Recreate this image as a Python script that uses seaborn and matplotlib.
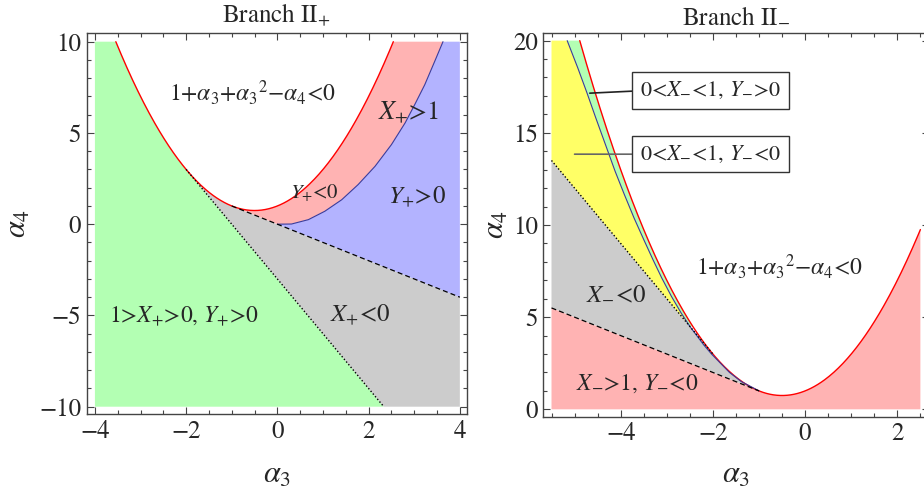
import numpy as np
import pandas as pd
import matplotlib
matplotlib.use("Agg")
import matplotlib.pyplot as plt
import seaborn as sns
from matplotlib.ticker import MultipleLocator

# ---------------- data ----------------
# boundary curve  1 + a3 + a3^2 - a4 = 0   ->  a4 = c0 + c1*a3 + c2*a3^2
boundary_coeffs = [1.0, 1.0, 1.0]

# Branch II+ panel
plus_a3_range = [-4.0, 4.0]
plus_a4_range = [-10.0, 10.0]
plus_dotted_a3 = [-2.0, 2.333]
plus_dotted_a4 = [3.0, -10.0]
plus_dashed_a3 = [-1.0, 4.0]
plus_dashed_a4 = [1.0, -4.0]
plus_blue_a3 = [0.0, 0.31, 0.68, 1.04, 1.41, 1.77, 2.14, 2.50, 2.80, 3.01, 3.23, 3.45, 3.63]
plus_blue_a4 = [0.0, 0.01, 0.25, 0.71, 1.34, 2.17, 3.17, 4.36, 5.55, 6.55, 7.64, 8.93, 10.0]

# Branch II- panel
minus_a3_range = [-5.5, 2.5]
minus_a4_range = [0.0, 20.0]
minus_dotted_a3 = [-5.5, -2.0]
minus_dotted_a4 = [13.5, 3.0]
minus_dashed_a3 = [-5.5, -1.0]
minus_dashed_a4 = [5.5, 1.0]
minus_blue_a3 = [-5.16, -4.93, -4.73, -4.54, -4.33, -4.12, -3.92, -3.71, -3.50, -3.30,
                 -3.11, -2.90, -2.69, -2.50, -2.20, -2.03, -1.64, -1.38, -1.0]
minus_blue_a4 = [20.0, 18.52, 17.16, 15.81, 14.36, 12.91, 11.65, 10.38, 9.21, 8.12,
                 7.13, 6.13, 5.23, 4.50, 3.50, 3.00, 2.00, 1.50, 1.0]
minus_yellow_end = 4.5   # blue curve meets the dotted line here (a4)

COND = r"1+$\alpha_3$+$\alpha_3{}^2$−$\alpha_4$<0"
# region labels: (text, a3, a4, fontsize)
plus_labels = [
    (COND, -0.54, 7.24, 17),
    (r"$X_{+}$>1", 2.88, 6.08, 19),
    (r"$Y_{+}$<0", 0.80, 1.69, 15),
    (r"$Y_{+}$>0", 3.05, 1.51, 18),
    (r"1>$X_{+}$>0, $Y_{+}$>0", -2.06, -5.03, 17),
    (r"$X_{+}$<0", 1.81, -4.97, 18),
]
minus_labels = [
    (COND, -0.56, 7.74, 17),
    (r"$X_{-}$<0", -4.09, 6.29, 18),
    (r"$X_{-}$>1, $Y_{-}$<0", -3.65, 1.41, 17),
]
# callouts: (text, box centre a3, a4, pointer a3, a4, line colour)
minus_callouts = [
    (r"0<$X_{-}$<1, $Y_{-}$>0", -2.05, 17.28, -4.67, 17.15, "#222222"),
    (r"0<$X_{-}$<1, $Y_{-}$<0", -2.05, 13.84, -5.00, 13.84, "#666666"),
]

C_GREEN = "#b3ffb3"
C_PINK = "#ffb3b3"
C_BLUE = "#b3b3ff"
C_GRAY = "#cccccc"
C_YELLOW = "#ffff66"
C_FRAME = "#444444"

# ---------------- style ----------------
sns.set_theme(style="ticks")
plt.rcParams["font.family"] = ["STIXGeneral", "DejaVu Serif"]
plt.rcParams["mathtext.fontset"] = "stix"
plt.rcParams["axes.edgecolor"] = C_FRAME


def parab(a):
    a = np.asarray(a, dtype=float)
    return boundary_coeffs[0] + boundary_coeffs[1] * a + boundary_coeffs[2] * a ** 2


def parab_inv(v, sign):
    c0, c1, c2 = boundary_coeffs
    return (-c1 + sign * np.sqrt(c1 ** 2 - 4 * c2 * (c0 - v))) / (2 * c2)


def pseg(a0, a1, n=150):
    a = np.linspace(a0, a1, n)
    return list(zip(a, parab(a)))


def style_axes(ax):
    ax.xaxis.set_major_locator(MultipleLocator(2))
    ax.xaxis.set_minor_locator(MultipleLocator(0.5))
    ax.yaxis.set_major_locator(MultipleLocator(5))
    ax.yaxis.set_minor_locator(MultipleLocator(1))
    ax.tick_params(which="both", direction="in", top=True, right=True,
                   color=C_FRAME, width=0.8)
    ax.tick_params(which="major", length=5, labelsize=18, pad=4)
    ax.tick_params(which="minor", length=2.8)
    for s in ax.spines.values():
        s.set_linewidth(1.0)
        s.set_color(C_FRAME)
    ax.set_xlabel(r"$\alpha_3$", fontsize=22)
    ax.set_ylabel(r"$\alpha_4$", fontsize=22)


def lines(ax, xs, ys, **kw):
    df = pd.DataFrame({"a3": xs, "a4": ys})
    sns.lineplot(data=df, x="a3", y="a4", ax=ax, sort=False, estimator=None, **kw)


def fill(ax, poly, color):
    p = np.array(poly)
    ax.fill(p[:, 0], p[:, 1], color=color, lw=0, zorder=1)


fig = plt.figure(figsize=(9.24, 4.91), dpi=100)
axL = fig.add_axes([86.7 / 924, (491 - 414) / 491, 380 / 924, 380.7 / 491])
axR = fig.add_axes([543.3 / 924, (491 - 416.7) / 491, 385.3 / 924, 384 / 491])

# ================= Branch II+ =================
ax = axL
x0, x1 = plus_a3_range
y0, y1 = plus_a4_range
aL10 = parab_inv(y1, -1)
aR10 = parab_inv(y1, +1)
bx, by = plus_blue_a3, plus_blue_a4
dot0 = (plus_dotted_a3[0], plus_dotted_a4[0])
dot1 = (plus_dotted_a3[1], plus_dotted_a4[1])
dsh0 = (plus_dashed_a3[0], plus_dashed_a4[0])
dsh1 = (plus_dashed_a3[1], plus_dashed_a4[1])

fill(ax, [(x0, y0), (x0, y1), (aL10, y1)] + pseg(aL10, dot0[0]) + [dot1], C_GREEN)
fill(ax, pseg(dot0[0], dsh0[0]) + [dsh1, (x1, y0), dot1], C_GRAY)
fill(ax, pseg(dsh0[0], aR10) + list(zip(bx[::-1], by[::-1])), C_PINK)
fill(ax, list(zip(bx, by)) + [(x1, y1), dsh1], C_BLUE)

aa = np.linspace(aL10, aR10, 300)
lines(ax, aa, parab(aa), color="#ff0000", lw=1.0, zorder=3)
lines(ax, bx, by, color="#3b3b9a", lw=0.8, zorder=3)
lines(ax, plus_dashed_a3, plus_dashed_a4, color="black", lw=0.9, dashes=(4, 2.5), zorder=3)
lines(ax, plus_dotted_a3, plus_dotted_a4, color="black", lw=1.0, dashes=(1, 1.5), zorder=3)

for t, xa, ya, fs in plus_labels:
    ax.text(xa, ya, t, fontsize=fs, ha="center", va="center", zorder=4)

ax.set_xlim(-4.18, 4.15)
ax.set_ylim(-10.4, 10.46)
style_axes(ax)
ax.set_title(r"Branch $\mathrm{II}_{+}$", fontsize=18, pad=8)
ax.xaxis.set_label_coords(0.5, -0.162)
ax.xaxis.label.set_va("center")
ax.yaxis.set_label_coords(-0.178, 0.5)
ax.yaxis.label.set_va("center")

# ================= Branch II- =================
ax = axR
x0, x1 = minus_a3_range
y0, y1 = minus_a4_range
aL20 = parab_inv(y1, -1)
bx, by = minus_blue_a3, minus_blue_a4
dot0 = (minus_dotted_a3[0], minus_dotted_a4[0])
dot1 = (minus_dotted_a3[1], minus_dotted_a4[1])
dsh0 = (minus_dashed_a3[0], minus_dashed_a4[0])
dsh1 = (minus_dashed_a3[1], minus_dashed_a4[1])
upper = [(u, v) for u, v in zip(bx, by) if v >= minus_yellow_end]
a_meet = parab_inv(minus_yellow_end, -1)

fill(ax, [(x0, y0), dsh0, dsh1] + pseg(dsh1[0], x1) + [(x1, y0)], C_PINK)
fill(ax, [dsh0, dot0, dot1] + pseg(dot1[0], dsh1[0]), C_GRAY)
fill(ax, [dot0, (x0, y1)] + upper, C_YELLOW)
fill(ax, upper + pseg(a_meet, aL20), C_GREEN)

aa = np.linspace(aL20, x1, 300)
lines(ax, aa, parab(aa), color="#ff0000", lw=1.0, zorder=3)
lines(ax, bx, by, color="#3b3b9a", lw=0.8, zorder=3)
lines(ax, minus_dashed_a3, minus_dashed_a4, color="black", lw=0.9, dashes=(4, 2.5), zorder=3)
lines(ax, minus_dotted_a3, minus_dotted_a4, color="black", lw=1.0, dashes=(1, 1.5), zorder=3)

for t, xa, ya, fs in minus_labels:
    ax.text(xa, ya, t, fontsize=fs, ha="center", va="center", zorder=4)

for t, bxc, byc, px, py, lc in minus_callouts:
    ax.annotate(t, xy=(px, py), xytext=(bxc, byc), fontsize=16, ha="center", va="center",
                zorder=5,
                bbox=dict(boxstyle="square,pad=0.35", fc="white", ec="#333333", lw=1.0),
                arrowprops=dict(arrowstyle="-", color=lc, lw=1.2, relpos=(0, 0.5),
                                shrinkA=0, shrinkB=0))

ax.set_xlim(-5.678, 2.678)
ax.set_ylim(-0.4, 20.43)
style_axes(ax)
ax.set_title(r"Branch $\mathrm{II}_{-}$", fontsize=18, pad=8)
ax.xaxis.set_label_coords(0.5, -0.155)
ax.xaxis.label.set_va("center")
ax.yaxis.set_label_coords(-0.12, 0.5)
ax.yaxis.label.set_va("center")

fig.savefig("out.png", dpi=100)
